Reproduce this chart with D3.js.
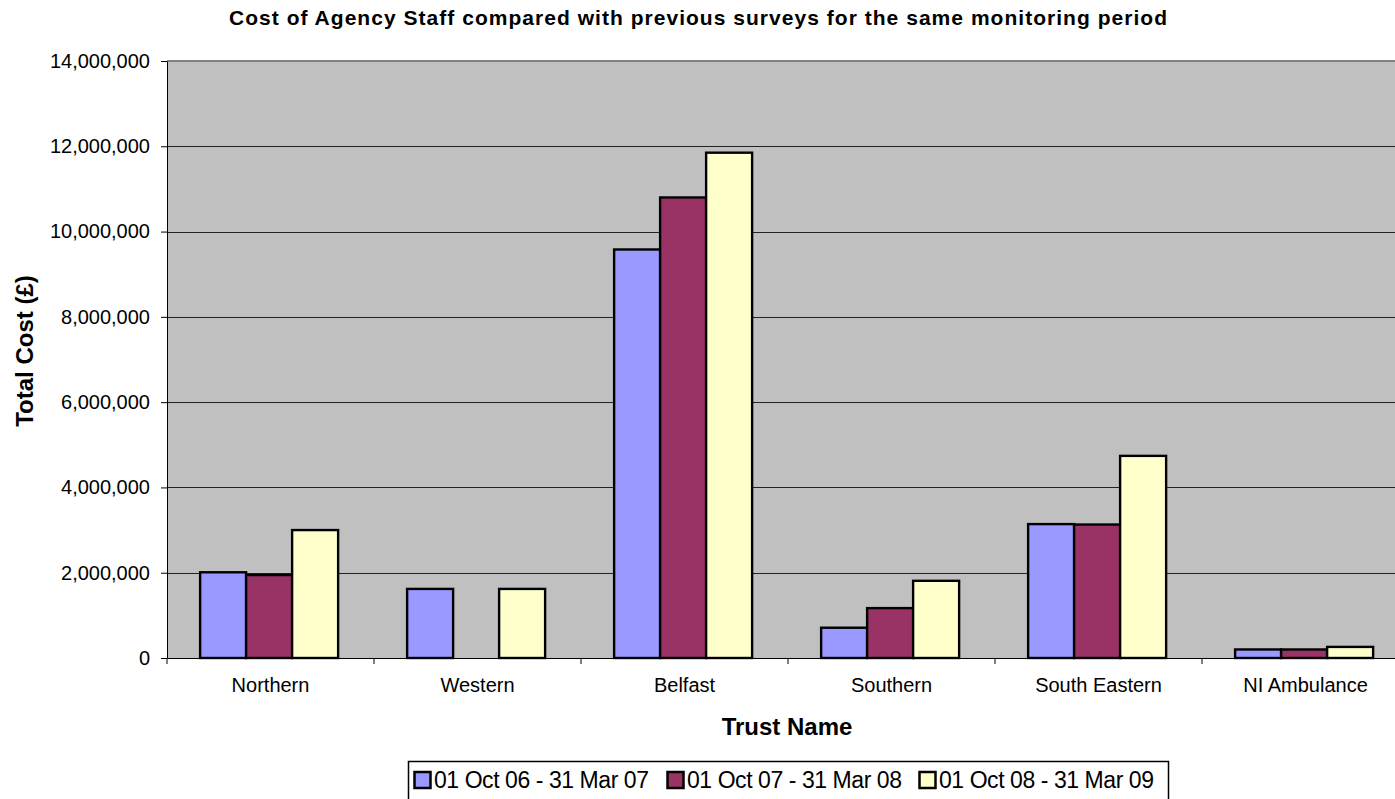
<!DOCTYPE html>
<html>
<head>
<meta charset="utf-8">
<script src="https://cdn.jsdelivr.net/npm/d3@7"></script>
<style>
  body { margin: 0; background: #fff; }
  text { font-family: "Liberation Sans", Arial, sans-serif; }
</style>
</head>
<body>
<div id="chart"></div>
<script>
// data
var trusts = ["Northern", "Western", "Belfast", "Southern", "South Eastern", "NI Ambulance"];
var periods = ["01 Oct 06 - 31 Mar 07", "01 Oct 07 - 31 Mar 08", "01 Oct 08 - 31 Mar 09"];
var cost0607 = [2010000, 1620000, 9580000, 710000, 3140000, 200000];
var cost0708 = [1945000, 0, 10800000, 1170000, 3130000, 200000];
var cost0809 = [3000000, 1620000, 11850000, 1810000, 4740000, 260000];
var yTicks = [0, 2000000, 4000000, 6000000, 8000000, 10000000, 12000000, 14000000];
var colors = ["#9999ff", "#993366", "#ffffcc"];

var series = [cost0607, cost0708, cost0809];

var w = 1395, h = 799;
var pLeft = 167, pTop = 61, pBottom = 658, pRight = 1409;

var svg = d3.select("#chart").append("svg")
    .attr("width", w).attr("height", h);

var x = d3.scaleBand().domain(trusts).range([pLeft, pRight]);
var bw = x.bandwidth() / 4.5;
var xs = d3.scaleBand().domain([0, 1, 2]).range([bw * 0.72, bw * 3.72]);
var y = d3.scaleLinear().domain([0, 14000000]).range([pBottom, pTop]);

// plot area
svg.append("rect")
    .attr("x", pLeft).attr("y", pTop)
    .attr("width", pRight - pLeft).attr("height", pBottom - pTop)
    .attr("fill", "#c0c0c0");
svg.append("line")
    .attr("x1", pLeft).attr("x2", pRight)
    .attr("y1", pTop).attr("y2", pTop)
    .attr("stroke", "#808080").attr("stroke-width", 2);

// grid
svg.append("g").selectAll("line")
    .data(yTicks.slice(1, -1))
    .enter().append("line")
    .attr("x1", pLeft).attr("x2", pRight)
    .attr("y1", function(d){ return Math.round(y(d)) + 0.5; })
    .attr("y2", function(d){ return Math.round(y(d)) + 0.5; })
    .attr("stroke", "#222").attr("stroke-width", 1);

// bars
var groups = svg.append("g").selectAll("g")
    .data(series)
    .enter().append("g")
    .attr("fill", function(d, i){ return colors[i]; });

groups.each(function(vals, si){
  var rows = vals.map(function(v, i){ return {trust: trusts[i], v: v}; })
                 .filter(function(d){ return d.v > 0; });
  d3.select(this).selectAll("rect")
    .data(rows)
    .enter().append("rect")
    .attr("x", function(d){ return x(d.trust) + xs(si); })
    .attr("y", function(d){ return y(d.v); })
    .attr("width", xs.bandwidth())
    .attr("height", function(d){ return pBottom - y(d.v); })
    .attr("stroke", "#000").attr("stroke-width", 2.4);
});

// y axis
var yAxis = d3.axisLeft(y)
    .tickValues(yTicks)
    .tickSize(6)
    .tickSizeOuter(0)
    .tickPadding(11)
    .tickFormat(d3.format(","));
var ya = svg.append("g")
    .attr("transform", "translate(" + pLeft + ",0)")
    .call(yAxis);
ya.select(".domain").attr("stroke", "#000");
ya.selectAll("text").attr("font-size", "20px").attr("fill", "#000")
    .attr("font-family", "Liberation Sans, Arial, sans-serif");

// x axis
var xa = svg.append("g")
    .attr("transform", "translate(0," + pBottom + ")")
    .call(d3.axisBottom(x).tickSize(0).tickSizeOuter(0));
xa.select(".domain").attr("stroke", "#000");
xa.selectAll("text").attr("font-size", "20px").attr("fill", "#000")
    .attr("y", 20)
    .attr("font-family", "Liberation Sans, Arial, sans-serif");
// category separator ticks
xa.append("g").selectAll("line")
    .data(trusts)
    .enter().append("line")
    .attr("x1", function(d){ return x(d); })
    .attr("x2", function(d){ return x(d); })
    .attr("y1", 0).attr("y2", 6)
    .attr("stroke", "#000");

// titles
svg.append("text")
    .attr("x", 698).attr("y", 25)
    .attr("text-anchor", "middle")
    .attr("font-size", "21px").attr("font-weight", "bold")
    .attr("textLength", 938).attr("lengthAdjust", "spacing")
    .text("Cost of Agency Staff compared with previous surveys for the same monitoring period");

svg.append("text")
    .attr("x", 787).attr("y", 735)
    .attr("text-anchor", "middle")
    .attr("font-size", "24px").attr("font-weight", "bold")
    .text("Trust Name");

svg.append("text")
    .attr("transform", "translate(33,351) rotate(-90)")
    .attr("text-anchor", "middle")
    .attr("font-size", "24px").attr("font-weight", "bold")
    .text("Total Cost (£)");

// legend
var lg = svg.append("g");
lg.append("rect")
    .attr("x", 408.5).attr("y", 761.5)
    .attr("width", 760).attr("height", 45)
    .attr("fill", "#fff").attr("stroke", "#000").attr("stroke-width", 1.5);

var legX = [413, 666, 918];
var items = lg.selectAll("g.item")
    .data(periods)
    .enter().append("g")
    .attr("transform", function(d, i){ return "translate(" + legX[i] + ",772)"; });
items.append("rect")
    .attr("x", 1.5).attr("y", 0)
    .attr("width", 16).attr("height", 16)
    .attr("fill", function(d, i){ return colors[i]; })
    .attr("stroke", "#000").attr("stroke-width", 2.5);
items.append("text")
    .attr("x", 21).attr("y", 16)
    .attr("font-size", "23px")
    .attr("textLength", 215).attr("lengthAdjust", "spacing")
    .text(function(d){ return d; });
</script>
</body>
</html>
